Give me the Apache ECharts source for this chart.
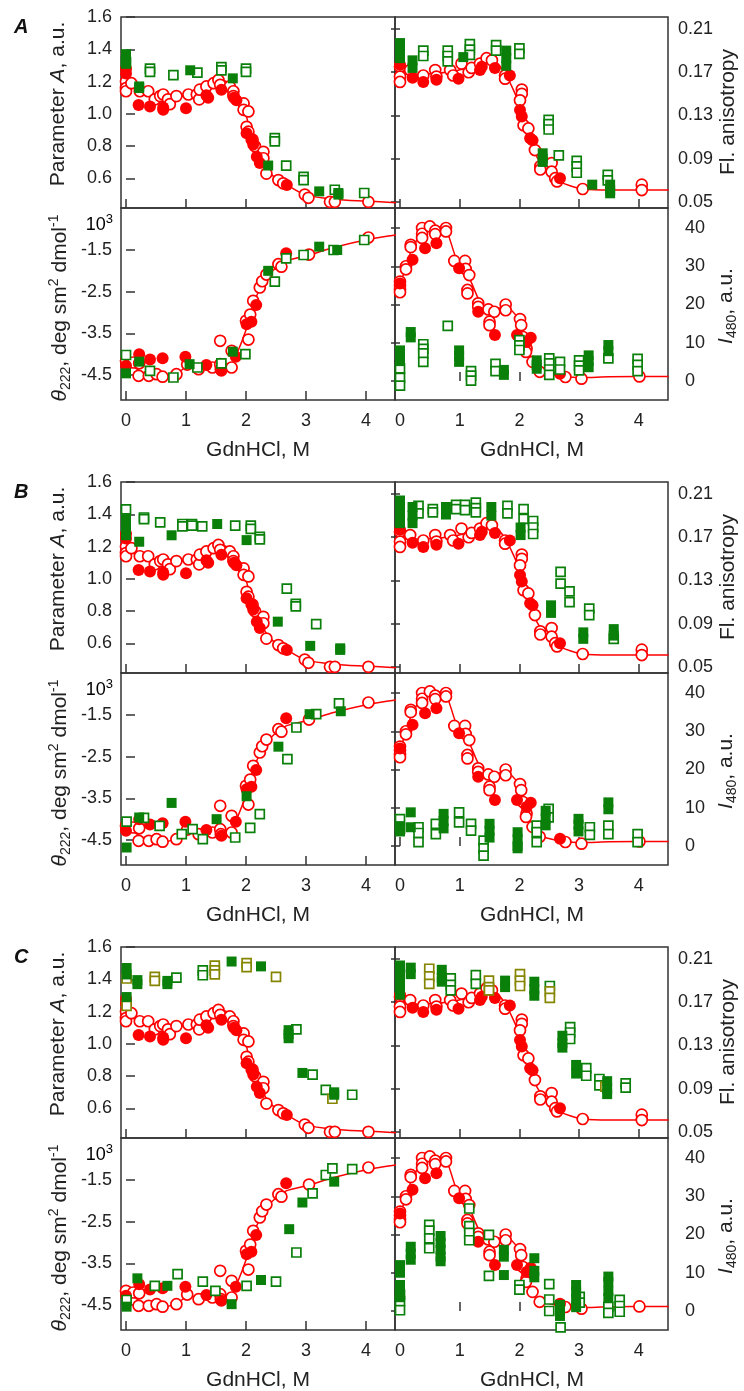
<!DOCTYPE html>
<html>
<head>
<meta charset="utf-8">
<script src="https://cdn.jsdelivr.net/npm/echarts@6/dist/echarts.min.js"></script>
<style>
  html, body { margin: 0; padding: 0; background: #fff; }
  #chart { width: 744px; height: 1391px; }
</style>
</head>
<body>
<div id="chart"></div>
<script>
// ---- tick values -------------------------------------------------------
const xTicks = [0, 1, 2, 3, 4];
const paramTicks = [0.6, 0.8, 1.0, 1.2, 1.4, 1.6];
const anisoTicks = [0.05, 0.09, 0.13, 0.17, 0.21];
const cdTicks = [-4.5, -3.5, -2.5, -1.5];
const intensityTicks = [0, 10, 20, 30, 40];
const panelLetters = ['A', 'B', 'C'];

// ---- reference protein (red), shared by all three panels ---------------
// [GdnHCl, M ; value]
const redParamOpen = [[0,1.2],[0,1.16],[0,1.14],[0.09,1.19],[0.23,1.14],[0.37,1.14],[0.48,1.09],[0.57,1.11],[0.62,1.12],[0.7,1.09],[0.73,1.06],[0.84,1.11],[1.04,1.12],[1.18,1.12],[1.22,1.09],[1.23,1.15],[1.34,1.17],[1.46,1.19],[1.54,1.21],[1.57,1.18],[1.73,1.17],[1.79,1.14],[1.79,1.11],[1.96,1.065],[1.96,1.025],[2.04,1.015],[2.01,0.92],[2.04,0.89],[2.11,0.84],[2.15,0.8],[2.29,0.765],[2.29,0.725],[2.34,0.63],[2.54,0.59],[2.62,0.57],[2.98,0.5],[3.04,0.48],[3.4,0.455],[3.48,0.455],[4.04,0.455]];
const redParamFilled = [[0,1.28],[0,1.25],[0.21,1.055],[0.4,1.045],[0.62,1.025],[0.62,1.04],[1.0,1.035],[1.34,1.115],[1.37,1.1],[1.59,1.15],[1.8,1.1],[1.84,1.085],[2.01,0.88],[2.09,0.84],[2.12,0.81],[2.18,0.735],[2.23,0.695],[2.68,0.56]];
const fitParam = [[0,1.21],[0.2,1.15],[0.5,1.11],[0.8,1.1],[1.1,1.13],[1.4,1.18],[1.6,1.21],[1.75,1.18],[1.85,1.12],[1.98,1.02],[2.12,0.83],[2.34,0.66],[2.5,0.6],[2.68,0.56],[2.98,0.5],[3.5,0.47],[4.0,0.46],[4.5,0.45]];

const redAnisoOpen = [[0,0.175],[0,0.166],[0,0.161],[0.17,0.172],[0.39,0.167],[0.59,0.172],[0.61,0.166],[0.84,0.172],[0.89,0.167],[1.03,0.178],[1.15,0.17],[1.2,0.174],[1.34,0.178],[1.45,0.183],[1.54,0.181],[1.76,0.167],[1.76,0.164],[2.04,0.154],[2.04,0.15],[2.01,0.144],[2.07,0.121],[2.15,0.118],[2.26,0.098],[2.35,0.083],[2.35,0.08],[2.54,0.086],[2.54,0.078],[2.6,0.072],[2.63,0.069],[3.06,0.062],[4.05,0.066],[4.05,0.061]];
const redAnisoFilled = [[0,0.177],[0.21,0.165],[0.39,0.161],[0.61,0.163],[0.98,0.164],[1.34,0.172],[1.37,0.175],[1.59,0.174],[1.84,0.167],[2.01,0.135],[2.04,0.129],[2.18,0.109],[2.22,0.107],[2.68,0.072]];
const fitAniso = [[0,0.172],[0.3,0.168],[0.6,0.169],[0.9,0.171],[1.2,0.175],[1.45,0.18],[1.6,0.179],[1.76,0.169],[1.88,0.156],[2.01,0.139],[2.15,0.114],[2.29,0.092],[2.45,0.08],[2.63,0.07],[2.85,0.065],[3.06,0.062],[3.5,0.061],[4.5,0.061]];

const redCdOpen = [[0,-4.16],[0.12,-4.2],[0.22,-4.22],[0.21,-4.52],[0.38,-4.52],[0.51,-4.48],[0.61,-4.54],[0.84,-4.48],[1.02,-4.25],[1.21,-4.36],[1.44,-4.32],[1.57,-3.68],[1.57,-4.24],[1.58,-4.36],[1.76,-3.92],[1.76,-4.32],[2.0,-3.2],[2.04,-3.65],[2.07,-3.05],[2.12,-2.72],[2.23,-2.4],[2.27,-2.25],[2.34,-2.09],[2.54,-1.84],[2.59,-1.9],[3.05,-1.61],[4.04,-1.2]];
const redCdFilled = [[0,-4.28],[0.22,-4.0],[0.4,-4.13],[0.61,-4.1],[0.99,-4.06],[1.34,-4.26],[1.59,-4.4],[1.83,-4.06],[2.01,-3.28],[2.09,-3.22],[2.17,-2.82],[2.67,-1.58]];
const fitCd = [[0,-4.16],[0.1,-4.28],[0.3,-4.45],[0.6,-4.55],[0.85,-4.46],[1.05,-4.28],[1.3,-4.36],[1.55,-4.4],[1.72,-4.35],[1.84,-4.02],[2.01,-3.38],[2.12,-2.82],[2.29,-2.26],[2.46,-1.98],[2.67,-1.76],[3.06,-1.62],[3.46,-1.44],[4.05,-1.24],[4.5,-1.14]];

const redIntOpen = [[0,26],[0,25],[0,24],[0,23.2],[0.1,30],[0.1,29.2],[0.18,35.6],[0.18,35],[0.37,40],[0.37,38.5],[0.37,37.4],[0.5,40.4],[0.59,39.3],[0.59,38.4],[0.77,40],[0.77,39.1],[0.91,31.4],[1.09,31.4],[1.1,29.3],[1.16,27.7],[1.13,23.8],[1.13,22.9],[1.31,20.3],[1.31,19.4],[1.48,18.7],[1.58,18.1],[1.5,15.5],[1.5,14.6],[1.77,20],[1.77,18.5],[2.01,16.2],[2.03,14.6],[2.06,11.5],[2.12,8.5],[2.11,7.6],[2.22,5],[2.34,2.4],[2.77,1.05],[3.04,0.6],[4.01,1.2]];
const redIntFilled = [[0,25.5],[0.21,31.7],[0.42,34.7],[0.61,36],[0.99,29.5],[1.31,18.1],[1.59,12],[1.96,12],[2.12,10.2],[2.19,11.3],[2.68,1.9]];
const fitInt = [[0,25.5],[0.11,30],[0.2,34.7],[0.39,39],[0.5,40.4],[0.7,40.2],[0.8,38.5],[0.95,31.7],[1.15,27.3],[1.34,20.7],[1.51,18.5],[1.77,19.4],[1.96,16.7],[2.09,9.8],[2.29,3.2],[2.51,1.9],[2.77,1.1],[3.04,0.9],[3.5,1.1],[4.5,1.2]];

// ---- panel A (green) ---------------------------------------------------
const aParamOpen = [[0,1.32],[0.4,1.28],[0.4,1.26],[0.79,1.24],[1.19,1.255],[1.59,1.29],[1.59,1.27],[2.0,1.28],[2.0,1.26],[2.48,0.85],[2.48,0.83],[2.67,0.68],[2.96,0.61],[2.96,0.59],[3.48,0.53],[3.97,0.51]];
const aParamFilled = [[0,1.37],[0,1.34],[0,1.31],[0.22,1.17],[0.22,1.16],[1.07,1.27],[1.78,1.22],[2.37,0.68],[3.22,0.52],[3.54,0.51],[3.54,0.5]];
const aAnisoOpen = [[0.39,0.19],[0.39,0.185],[0.8,0.19],[0.8,0.185],[0.8,0.18],[1.17,0.196],[1.17,0.191],[1.17,0.186],[1.61,0.195],[1.61,0.19],[2.0,0.192],[2.0,0.187],[2.49,0.126],[2.49,0.122],[2.49,0.117],[2.66,0.093],[2.96,0.088],[2.96,0.083],[2.96,0.077],[3.48,0.075],[3.48,0.07]];
const aAnisoFilled = [[0,0.197],[0,0.19],[0,0.183],[0.21,0.181],[0.21,0.174],[1.06,0.184],[1.78,0.19],[1.78,0.183],[1.78,0.176],[2.39,0.095],[2.39,0.09],[2.39,0.087],[3.22,0.066],[3.52,0.066],[3.52,0.061],[3.52,0.058]];
const aCdOpen = [[0,-4.02],[0.4,-4.4],[0.79,-4.56],[1.19,-4.32],[1.59,-4.22],[1.99,-4.0],[2.48,-2.26],[2.67,-1.7],[2.96,-1.62],[3.46,-1.5],[3.97,-1.26]];
const aCdFilled = [[0,-4.46],[0.22,-4.18],[1.06,-4.24],[1.78,-3.94],[2.37,-2.0],[3.22,-1.42],[3.52,-1.5]];
const aIntOpen = [[0,3.3],[0,0.8],[0,-1.2],[0.39,9.6],[0.39,8.4],[0.39,7.2],[0.39,5],[0.8,14.4],[1.19,2.6],[1.19,1.4],[1.19,0.1],[1.6,4.5],[1.6,2.6],[2.0,10.7],[2.0,9.3],[2.0,8.1],[2.5,5.9],[2.5,4.6],[2.5,3],[2.5,1.6],[2.68,5],[2.68,3],[3.0,5.4],[3.0,4],[3.0,2.8],[3.49,5.9],[3.98,5.8],[3.98,4.2],[3.98,2.6]];
const aIntFilled = [[0,8],[0,6.6],[0,5.2],[0.18,12.8],[0.18,11.4],[0.99,8],[0.99,6.6],[0.99,5],[1.74,2.9],[1.74,1.6],[2.29,5.4],[2.29,4.2],[2.29,3.2],[3.16,6.7],[3.16,5.2],[3.16,3.6],[3.49,9.4],[3.49,7.8]];

// ---- panel B (green) ---------------------------------------------------
const bParamOpen = [[0,1.43],[0.3,1.38],[0.3,1.37],[0.57,1.35],[0.94,1.34],[0.94,1.325],[1.1,1.34],[1.1,1.33],[1.27,1.325],[1.82,1.33],[2.08,1.33],[2.08,1.31],[2.23,1.26],[2.23,1.245],[2.68,0.94],[2.83,0.845],[2.83,0.83],[3.17,0.72]];
const bParamFilled = [[0,1.37],[0,1.33],[0,1.29],[0,1.27],[0.22,1.23],[0.76,1.27],[1.52,1.34],[2.01,1.24],[2.53,0.735],[3.07,0.585],[3.57,0.57],[3.57,0.56]];
const bAnisoOpen = [[0.31,0.199],[0.31,0.192],[0.55,0.196],[0.55,0.193],[0.94,0.2],[0.94,0.196],[1.09,0.2],[1.09,0.195],[1.27,0.202],[1.27,0.197],[1.27,0.193],[1.8,0.199],[1.8,0.192],[2.07,0.196],[2.07,0.187],[2.23,0.185],[2.23,0.179],[2.23,0.173],[2.69,0.138],[2.69,0.127],[2.84,0.12],[2.84,0.11],[3.17,0.104],[3.17,0.098],[3.58,0.076]];
const bAnisoFilled = [[0,0.204],[0,0.197],[0,0.19],[0,0.183],[0.21,0.198],[0.21,0.19],[0.21,0.183],[0.77,0.198],[0.77,0.191],[1.53,0.198],[1.53,0.19],[2.02,0.179],[2.02,0.172],[2.53,0.107],[2.53,0.1],[3.07,0.082],[3.07,0.076],[3.58,0.085],[3.58,0.079]];
const bCdOpen = [[0.01,-4.06],[0.3,-3.97],[0.56,-4.16],[0.93,-4.36],[1.11,-4.24],[1.28,-4.48],[1.82,-4.44],[2.07,-4.21],[2.23,-3.88],[2.69,-2.56],[2.84,-1.8],[3.17,-1.48],[3.55,-1.22]];
const bCdFilled = [[0.01,-4.68],[0.22,-3.96],[0.76,-3.61],[1.51,-4.0],[2.01,-3.45],[2.54,-2.26],[3.06,-1.48],[3.58,-1.41]];
const bIntOpen = [[0,7],[0,4.5],[0.31,4.9],[0.31,3.4],[0.31,1.0],[0.6,5.8],[0.6,3.1],[0.99,8.8],[0.99,6.2],[1.19,5.8],[1.19,4.0],[1.4,1.4],[1.4,-0.6],[1.4,-2.5],[2.29,5.3],[2.29,3.6],[2.29,1.0],[2.49,9.7],[2.49,7.5],[3.18,4.9],[3.18,2.9],[3.49,5.3],[3.49,3.1],[3.98,3.1],[3.98,1.0]];
const bIntFilled = [[0,5.2],[0,3.8],[0.18,8.8],[0.18,4.9],[0.73,8.4],[0.73,6.5],[0.73,4.6],[1.5,5.8],[1.5,4.0],[1.5,2.2],[1.97,3.6],[1.97,1.8],[1.97,0],[1.97,-0.6],[2.44,9.2],[2.44,7.2],[2.44,5.4],[2.99,7.1],[2.99,5.6],[2.99,3.8],[3.49,11.4],[3.49,9.6]];

// ---- panel C (green, with a second olive series on top) ----------------
const cParamOpen = [[0.84,1.41],[1.28,1.455],[1.28,1.425],[2.84,1.09],[3.11,0.81],[3.33,0.715],[3.77,0.685]];
const cParamOlive = [[0.01,1.405],[0.01,1.235],[0.48,1.415],[0.48,1.39],[1.48,1.485],[1.48,1.455],[1.48,1.43],[2.01,1.5],[2.01,1.475],[2.5,1.415],[3.44,0.66]];
const cParamFilled = [[0.01,1.47],[0.01,1.43],[0.01,1.29],[0.19,1.395],[0.19,1.37],[0.69,1.39],[0.69,1.37],[1.76,1.51],[2.25,1.48],[2.71,1.085],[2.71,1.06],[2.71,1.035],[2.94,0.82],[3.47,0.7],[3.47,0.685]];
const cAnisoOpen = [[0.85,0.192],[0.85,0.186],[0.85,0.181],[1.27,0.195],[1.27,0.187],[2.51,0.185],[2.85,0.147],[2.85,0.142],[2.85,0.136],[3.12,0.109],[3.12,0.102],[3.34,0.099],[3.34,0.093],[3.78,0.095],[3.78,0.091]];
const cAnisoOlive = [[0.49,0.201],[0.49,0.194],[0.49,0.187],[1.49,0.19],[1.49,0.184],[1.49,0.181],[2.01,0.196],[2.01,0.19],[2.01,0.185],[2.51,0.18],[2.51,0.174],[3.44,0.092]];
const cAnisoFilled = [[0,0.204],[0,0.197],[0,0.19],[0,0.183],[0,0.177],[0.18,0.202],[0.18,0.196],[0.7,0.2],[0.7,0.193],[0.7,0.189],[1.76,0.19],[1.76,0.184],[2.25,0.189],[2.25,0.182],[2.25,0.176],[2.72,0.139],[2.72,0.132],[2.72,0.128],[2.95,0.112],[2.95,0.104],[3.47,0.097],[3.47,0.09],[3.47,0.085]];
const cCdOpen = [[0.01,-4.38],[0.48,-4.04],[0.86,-3.76],[1.28,-3.94],[1.49,-4.16],[2.01,-4.04],[2.5,-3.94],[2.84,-3.24],[3.11,-1.82],[3.33,-1.38],[3.44,-1.22],[3.77,-1.24]];
const cCdFilled = [[0.01,-4.54],[0.19,-3.86],[0.69,-4.04],[1.76,-4.48],[2.25,-3.9],[2.72,-2.68],[2.94,-2.04],[3.47,-1.54]];
const cIntOpen = [[0,4.2],[0,2.6],[0,0.2],[0.49,22.5],[0.49,21],[0.49,19],[0.49,16.4],[1.16,26.8],[1.16,22.2],[1.16,20.4],[1.16,18.5],[1.49,19.9],[1.49,9.2],[2.0,6.8],[2.0,5.6],[2.5,7],[2.5,3],[2.5,0],[2.69,-4.3],[3.01,3.7],[3.01,2.2],[3.49,1.1],[3.49,-0.5],[3.68,2.9],[3.68,1.3],[3.68,-0.2]];
const cIntFilled = [[0,12],[0,10],[0,6.8],[0,5.4],[0,3.6],[0.18,16.8],[0.18,15],[0.18,13.4],[0.68,19.6],[0.68,17.8],[0.68,16],[0.68,14.2],[0.68,13],[1.74,16],[1.74,14.2],[1.74,9.4],[2.25,13.8],[2.25,10.5],[2.25,8.8],[2.68,1.6],[2.68,0],[2.68,-1.3],[2.95,6.8],[2.95,5],[2.95,3],[2.95,1],[3.49,9],[3.49,7.6],[3.49,5.2],[3.49,3.4]];

// ---- drawing -----------------------------------------------------------
const FONT = '"Liberation Sans", Arial, Helvetica, sans-serif';
const RED = '#ff0000', GREEN = '#0a800a', OLIVE = '#858500', INK = '#222', FRAME = '#333';
const PANEL_STEP = 465;

const plotKinds = {
  param:  { col: 0, row: 0, min: 0.417, max: 1.6, ticks: paramTicks, digits: 1, side: 'left', margin: 9,
            fit: fitParam, redOpen: redParamOpen, redFilled: redParamFilled },
  aniso:  { col: 1, row: 0, min: 0.0444, max: 0.2211, ticks: anisoTicks, digits: 2, side: 'right', margin: 10,
            fit: fitAniso, redOpen: redAnisoOpen, redFilled: redAnisoFilled },
  cd:     { col: 0, row: 1, min: -5.1, max: -0.492, ticks: cdTicks, digits: 1, side: 'left', margin: 9,
            fit: fitCd, redOpen: redCdOpen, redFilled: redCdFilled },
  int:    { col: 1, row: 1, min: -4.97, max: 45.23, ticks: intensityTicks, digits: 0, side: 'right', margin: 17,
            fit: fitInt, redOpen: redIntOpen, redFilled: redIntFilled }
};

const panels = [
  { param: { open: aParamOpen, filled: aParamFilled }, aniso: { open: aAnisoOpen, filled: aAnisoFilled },
    cd: { open: aCdOpen, filled: aCdFilled }, int: { open: aIntOpen, filled: aIntFilled } },
  { param: { open: bParamOpen, filled: bParamFilled }, aniso: { open: bAnisoOpen, filled: bAnisoFilled },
    cd: { open: bCdOpen, filled: bCdFilled }, int: { open: bIntOpen, filled: bIntFilled } },
  { param: { open: cParamOpen, filled: cParamFilled, olive: cParamOlive }, aniso: { open: cAnisoOpen, filled: cAnisoFilled, olive: cAnisoOlive },
    cd: { open: cCdOpen, filled: cCdFilled }, int: { open: cIntOpen, filled: cIntFilled } }
];

const grids = [], xAxes = [], yAxes = [], series = [];
const labelStyle = { fontFamily: FONT, fontSize: 18, color: INK };

function scatter(gi, data, symbol, fill, stroke, size, z) {
  const open = fill === '#fff';
  return {
    type: 'scatter', xAxisIndex: gi, yAxisIndex: gi, data, symbol, symbolSize: size, z,
    itemStyle: { color: fill, borderColor: stroke, borderWidth: open ? 1.7 : 0, opacity: 1 },
    silent: true
  };
}

function addPlot(k, kindName, greens) {
  const kind = plotKinds[kindName];
  const o = k * PANEL_STEP;
  const left = kind.col === 0 ? 121 : 395;
  const width = kind.col === 0 ? 274 : 273;
  const pxPerM = kind.col === 0 ? 60 : 59.7;
  const top = (kind.row === 0 ? 17 : 208) + o;
  const height = kind.row === 0 ? 191 : 192;
  const gi = grids.length;
  grids.push({ left, top, width, height, show: true, borderColor: FRAME, borderWidth: 1.5, backgroundColor: 'transparent' });
  xAxes.push({
    type: 'value', gridIndex: gi, min: -5 / pxPerM, max: (width - 5) / pxPerM,
    axisLine: { show: false }, splitLine: { show: false },
    axisTick: { show: true, inside: true, length: 9, customValues: xTicks, lineStyle: { color: FRAME, width: 1.5 } },
    axisLabel: Object.assign({ show: kind.row === 1, customValues: xTicks, margin: 12, formatter: v => String(v) }, labelStyle)
  });
  yAxes.push({
    type: 'value', gridIndex: gi, position: kind.side, min: kind.min, max: kind.max,
    axisLine: { show: false }, splitLine: { show: false },
    axisTick: { show: true, inside: true, length: 9, customValues: kind.ticks, lineStyle: { color: FRAME, width: 1.5 } },
    axisLabel: Object.assign({ customValues: kind.ticks, margin: kind.margin, formatter: v => v.toFixed(kind.digits) }, labelStyle)
  });
  series.push({
    type: 'line', xAxisIndex: gi, yAxisIndex: gi, data: kind.fit, smooth: 0.25, symbol: 'none',
    lineStyle: { color: RED, width: 1.5 }, z: 2, silent: true
  });
  series.push(scatter(gi, kind.redOpen, 'circle', '#fff', RED, 11, 3));
  series.push(scatter(gi, kind.redFilled, 'circle', RED, RED, 12, 4));
  series.push(scatter(gi, greens.open, 'rect', '#fff', GREEN, 9, 5));
  if (greens.olive) series.push(scatter(gi, greens.olive, 'rect', '#fff', OLIVE, 9, 5));
  series.push(scatter(gi, greens.filled, 'rect', GREEN, GREEN, 10, 6));
}

panels.forEach((p, k) => {
  ['param', 'aniso', 'cd', 'int'].forEach(name => addPlot(k, name, p[name]));
});

// axis titles and panel letters
const titleFont = 21;
const richBase = {
  n:   { fontFamily: FONT, fontSize: titleFont, color: INK, lineHeight: 26 },
  it:  { fontFamily: FONT, fontSize: titleFont, fontStyle: 'italic', color: INK, lineHeight: 26 },
  sub: { fontFamily: FONT, fontSize: 14, color: INK, lineHeight: 14, verticalAlign: 'bottom' },
  sup: { fontFamily: FONT, fontSize: 14, color: INK, lineHeight: 14, verticalAlign: 'top' }
};
function title(x, y, text, rotated) {
  return {
    type: 'text', x, y, rotation: rotated ? Math.PI / 2 : 0, silent: true, z: 100,
    style: { text, rich: richBase, align: 'center', verticalAlign: 'middle', fill: INK }
  };
}

const graphics = [];
panelLetters.forEach((letter, k) => {
  const o = k * PANEL_STEP;
  graphics.push({
    type: 'text', x: 14, y: 17 + o, silent: true,
    style: { text: letter, fontFamily: FONT, fontSize: 20, fontWeight: 'bold', fontStyle: 'italic', fill: '#111' }
  });
  graphics.push(title(58, 104 + o, '{n|Parameter }{it|A}{n|, a.u.}', true));
  graphics.push(title(60, 308 + o, '{it|θ}{sub|222}{n|, deg sm}{sup|2}{n| dmol}{sup|-1}', true));
  graphics.push({
    type: 'text', x: 113, y: 225 + o, silent: true,
    style: {
      text: '{n|10}{s|3}', align: 'right', verticalAlign: 'middle',
      rich: {
        n: { fontFamily: FONT, fontSize: 18, color: INK, lineHeight: 24 },
        s: { fontFamily: FONT, fontSize: 13, color: INK, lineHeight: 13, verticalAlign: 'top' }
      }
    }
  });
  graphics.push(title(728, 112 + o, '{n|Fl. anisotropy}', true));
  graphics.push(title(726, 306 + o, '{it|I}{sub|480}{n|, a.u.}', true));
  graphics.push(title(258, 450 + o, '{n|GdnHCl, M}', false));
  graphics.push(title(532, 450 + o, '{n|GdnHCl, M}', false));
});

const chart = echarts.init(document.getElementById('chart'), null, { renderer: 'canvas' });
chart.setOption({
  animation: false,
  backgroundColor: '#fff',
  grid: grids,
  xAxis: xAxes,
  yAxis: yAxes,
  series,
  graphic: graphics
});
</script>
</body>
</html>
